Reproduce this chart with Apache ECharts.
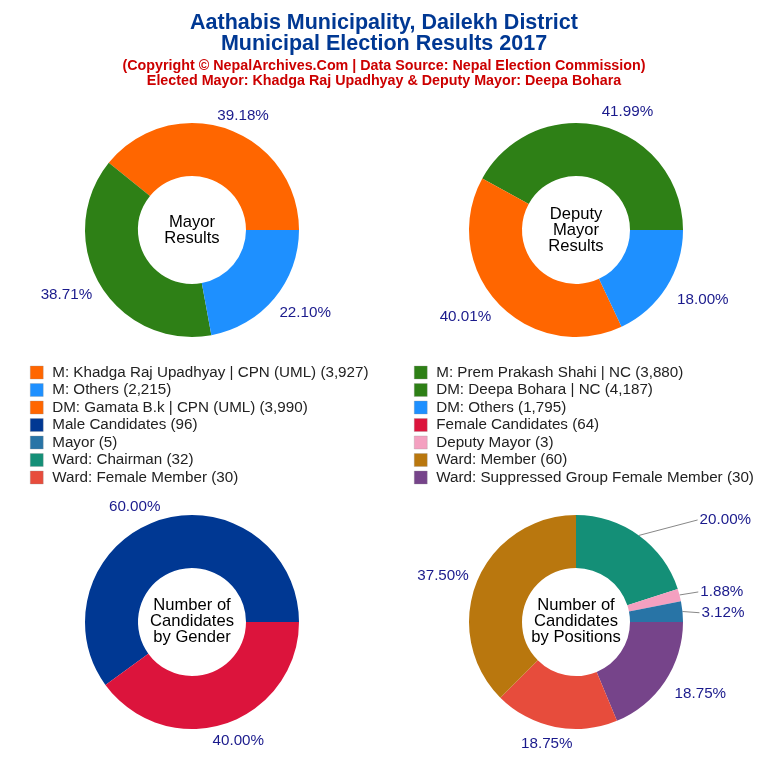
<!DOCTYPE html>
<html>
<head>
<meta charset="utf-8">
<script src="https://cdn.jsdelivr.net/npm/echarts@6/dist/echarts.min.js"></script>
<style>
html,body{margin:0;padding:0;background:#fff}
#main{width:768px;height:768px}
</style>
</head>
<body>
<div id="main"></div>
<script>
const mayorNames = ['M: Khadga Raj Upadhyay | CPN (UML)', 'M: Prem Prakash Shahi | NC', 'M: Others'];
const mayorValues = [3927, 3880, 2215];
const mayorColors = ['#FF6600', '#2E8016', '#1E90FF'];

const deputyNames = ['DM: Deepa Bohara | NC', 'DM: Gamata B.k | CPN (UML)', 'DM: Others'];
const deputyValues = [4187, 3990, 1795];
const deputyColors = ['#2E8016', '#FF6600', '#1E90FF'];

const genderNames = ['Male Candidates', 'Female Candidates'];
const genderValues = [96, 64];
const genderColors = ['#003893', '#DC143C'];

const positionNames = ['Ward: Chairman', 'Deputy Mayor', 'Mayor', 'Ward: Suppressed Group Female Member', 'Ward: Female Member', 'Ward: Member'];
const positionValues = [32, 3, 5, 30, 30, 60];
const positionColors = ['#148F77', '#F4A0C0', '#2874A6', '#76448A', '#E74C3C', '#B9770E'];

function itemName(name, value){
    return name + ' (' + value.toLocaleString('en-US') + ')';
}

// percentages in the picture round half to even (3.125 -> 3.12, 1.875 -> 1.88)
function percentText(value, total){
    let x = value / total * 10000;
    let r = Math.round(x);
    if(Math.abs(x - Math.floor(x) - 0.5) < 1e-9 && r % 2 == 1){
        r = r - 1;
    }
    return (r / 100).toFixed(2) + '%';
}

const legendLeft = [
    itemName(mayorNames[0], mayorValues[0]), itemName(mayorNames[2], mayorValues[2]),
    itemName(deputyNames[1], deputyValues[1]), itemName(genderNames[0], genderValues[0]),
    itemName(positionNames[2], positionValues[2]), itemName(positionNames[0], positionValues[0]),
    itemName(positionNames[4], positionValues[4])
];
const legendRight = [
    itemName(mayorNames[1], mayorValues[1]), itemName(deputyNames[0], deputyValues[0]),
    itemName(deputyNames[2], deputyValues[2]), itemName(genderNames[1], genderValues[1]),
    itemName(positionNames[1], positionValues[1]), itemName(positionNames[5], positionValues[5]),
    itemName(positionNames[3], positionValues[3])
];

const FONT = '"Liberation Sans", Arial, sans-serif';

function donut(center, names, values, colors, startAngle, clockwise, tweak){
    let total = values.reduce((a, b) => a + b, 0);
    return {
        type: 'pie',
        center: center,
        radius: [54, 107],
        startAngle: startAngle,
        clockwise: clockwise,
        avoidLabelOverlap: false,
        silent: true,
        data: names.map((n, i) => {
            let t = tweak[i] || {};
            return {
                name: itemName(n, values[i]),
                value: values[i],
                itemStyle: {color: colors[i]},
                labelLine: {show: !!t.line, length: 8, length2: 0, lineStyle: {color: '#888', width: 1}}
            };
        }),
        label: {
            position: 'outside',
            color: '#1A1A8C',
            fontFamily: FONT,
            fontSize: 15.2,
            formatter: p => percentText(p.value, total)
        },
        labelLayout: function(params){
            let t = tweak[params.dataIndex] || {};
            let layout = {dx: t.dx || 0, dy: t.dy || 0};
            if(t.line){
                // leader runs from the slice edge straight to the moved label
                let r = params.labelRect;
                let end = [r.x + layout.dx - 2, r.y + r.height / 2 + layout.dy];
                layout.labelLinePoints = [params.labelLinePoints[0], end, end];
            }
            return layout;
        }
    };
}

function centerTitle(x, y, text){
    return {
        text: text, left: x, top: y, textAlign: 'center', padding: 0,
        textStyle: {color: '#000', fontFamily: FONT, fontSize: 16.6, fontWeight: 'normal', lineHeight: 16.3}
    };
}

function legendColumn(left, data){
    return {
        orient: 'vertical', left: left, top: 365, padding: 0,
        itemWidth: 13, itemHeight: 13, itemGap: 2.5, selectedMode: false,
        icon: 'rect', data: data,
        itemStyle: {borderColor: 'rgba(150,150,150,0.6)', borderWidth: 0.5},
        textStyle: {color: '#222', fontFamily: FONT, fontSize: 15.2, height: 13, lineHeight: 13, padding: [0, 0, 0, 4]}
    };
}

let chart = echarts.init(document.getElementById('main'), null, {renderer: 'canvas'});
chart.setOption({
    animation: false,
    backgroundColor: '#fff',
    title: [
        {text: 'Aathabis Municipality, Dailekh District\nMunicipal Election Results 2017', left: 384, top: 13, textAlign: 'center', padding: 0,
         textStyle: {color: '#003893', fontFamily: FONT, fontSize: 21.5, fontWeight: 'bold', lineHeight: 21}},
        {text: '(Copyright © NepalArchives.Com | Data Source: Nepal Election Commission)\nElected Mayor: Khadga Raj Upadhyay & Deputy Mayor: Deepa Bohara', left: 384, top: 59, textAlign: 'center', padding: 0,
         textStyle: {color: '#CC0000', fontFamily: FONT, fontSize: 14.3, fontWeight: 'bold', lineHeight: 15}},
        centerTitle(192, 214, 'Mayor\nResults'),
        centerTitle(576, 206, 'Deputy\nMayor\nResults'),
        centerTitle(192, 597, 'Number of\nCandidates\nby Gender'),
        centerTitle(576, 597, 'Number of\nCandidates\nby Positions')
    ],
    legend: [legendColumn(30, legendLeft), legendColumn(414, legendRight)],
    series: [
        donut([192, 230], mayorNames, mayorValues, mayorColors, 0, false,
            [{dx: -18, dy: -6}, {dx: 4, dy: 6}, {dx: -6, dy: 9}]),
        donut([576, 230], deputyNames, deputyValues, deputyColors, 0, false,
            [{dx: -8, dy: -7}, {dx: 4, dy: 8}, {dx: -1, dy: 8}]),
        donut([192, 622], genderNames, genderValues, genderColors, 0, false,
            [{dx: 9, dy: -6}, {dx: -20, dy: 9}]),
        donut([576, 622], positionNames, positionValues, positionColors, 90, true,
            [{dx: 51, dy: -9, line: true}, {dx: 8, dy: -1, line: true}, {dx: 6, dy: 2, line: true},
             {dx: -2, dy: 8}, {dx: 24, dy: 9}, {dx: 4, dy: -2}])
    ]
});

window.addEventListener('resize', function(){
    chart.resize();
});
</script>
</body>
</html>
